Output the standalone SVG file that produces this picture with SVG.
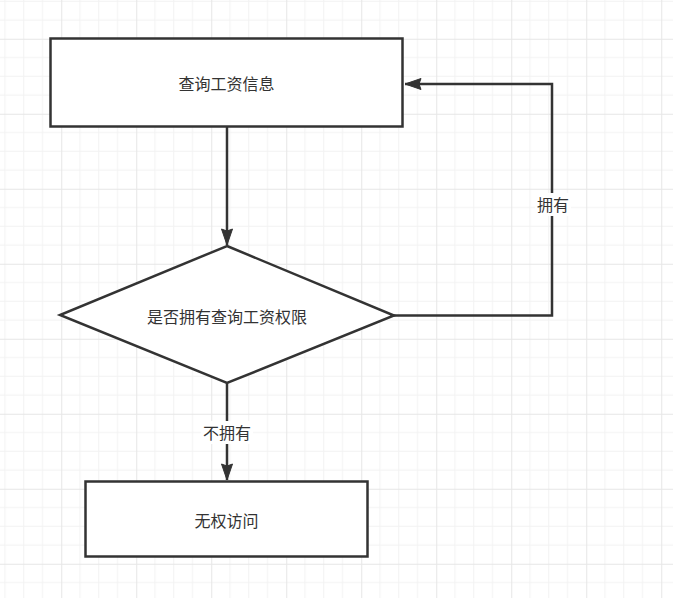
<svg xmlns="http://www.w3.org/2000/svg" width="673" height="598" viewBox="0 0 673 598">
<style>
.shape{fill:#fff;stroke:#333;stroke-width:2.5}
.conn{fill:none;stroke:#333;stroke-width:2.5}
.txt{font-family:"Noto Sans CJK SC","Noto Sans",sans-serif;font-size:16px;fill:#333;text-anchor:middle;dominant-baseline:central}
.minor{stroke:#f2f2f2;stroke-width:1}
.major{stroke:#e6e6e6;stroke-width:1}
</style>
<defs>
<pattern id="grid" patternUnits="userSpaceOnUse" x="61.25" y="38.75" width="75" height="75">
<path class="minor" d="M18.75 0V75M37.5 0V75M56.25 0V75M0 18.75H75M0 37.5H75M0 56.25H75"/>
<path class="major" d="M0.5 0V75M0 0.5H75"/>
</pattern>
<marker id="arrow" markerUnits="userSpaceOnUse" markerWidth="20" markerHeight="14" viewBox="-17 -7 18 14" refX="0" refY="0" orient="auto">
<path d="M0 0L-16 -5.5L-14 0L-16 5.5Z" fill="#333" stroke="#333" stroke-width="1" stroke-linejoin="miter"/>
</marker>
</defs>
<rect width="673" height="598" fill="#fff"/>
<rect width="673" height="598" fill="url(#grid)"/>
<g id="connectors">
<path class="conn" d="M227 127V245" marker-end="url(#arrow)"/>
<path class="conn" d="M394 315.5H552V84H405" marker-end="url(#arrow)"/>
<path class="conn" d="M227 383V480" marker-end="url(#arrow)"/>
<g id="label-yes">
<rect x="535" y="193" width="36" height="23" fill="#fff"/>
<text class="txt" x="553" y="204">拥有</text>
</g>
<g id="label-no">
<rect x="201" y="421" width="52" height="23" fill="#fff"/>
<text class="txt" x="227" y="432">不拥有</text>
</g>
</g>
<g id="node-query">
<rect class="shape" x="50.5" y="38.5" width="352" height="88"/>
<text class="txt" x="226.5" y="82.5">查询工资信息</text>
</g>
<g id="node-decision">
<polygon class="shape" points="227,246 394,315.5 227,383 60,315"/>
<text class="txt" x="227" y="315.5">是否拥有查询工资权限</text>
</g>
<g id="node-deny">
<rect class="shape" x="85.5" y="481.5" width="282" height="75"/>
<text class="txt" x="226.5" y="519.5">无权访问</text>
</g>
</svg>
